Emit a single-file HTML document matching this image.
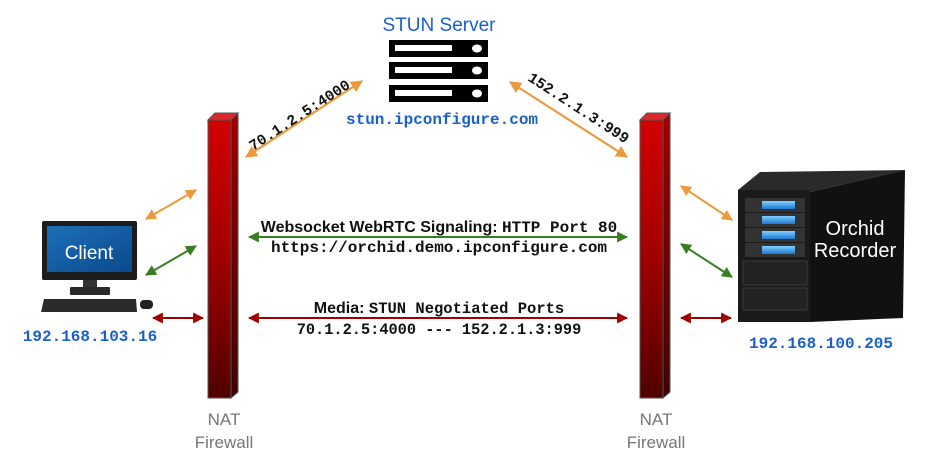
<!DOCTYPE html>
<html><head><meta charset="utf-8"><style>
html,body{margin:0;padding:0;background:#fff;}
svg{display:block;}
.mono{font-family:"Liberation Mono",monospace;font-weight:bold;}
.sans{font-family:"Liberation Sans",sans-serif;}
</style></head><body>
<svg width="934" height="464" viewBox="0 0 934 464" xmlns="http://www.w3.org/2000/svg">
<defs>
<linearGradient id="fw" x1="0" y1="0" x2="0" y2="1">
<stop offset="0" stop-color="#d40000"/><stop offset="0.5" stop-color="#a00000"/><stop offset="1" stop-color="#500000"/></linearGradient>
<linearGradient id="fws" x1="0" y1="0" x2="0" y2="1">
<stop offset="0" stop-color="#a00000"/><stop offset="1" stop-color="#3a0000"/></linearGradient>
<linearGradient id="scr" x1="0" y1="0" x2="1" y2="1">
<stop offset="0" stop-color="#1d6fb8"/><stop offset="1" stop-color="#0a4a8c"/></linearGradient>
<linearGradient id="bay" x1="0" y1="0" x2="0" y2="1">
<stop offset="0" stop-color="#7fd0ff"/><stop offset="1" stop-color="#1e78d0"/></linearGradient>
<marker id="ao" viewBox="0 0 10 10" refX="9" refY="5" markerWidth="5.5" markerHeight="5.5" orient="auto-start-reverse"><path d="M0,0L10,5L0,10z" fill="#ec9a3c"/></marker>
<marker id="ag" viewBox="0 0 10 10" refX="9" refY="5" markerWidth="5.5" markerHeight="5.5" orient="auto-start-reverse"><path d="M0,0L10,5L0,10z" fill="#3a7d22"/></marker>
<marker id="ar" viewBox="0 0 10 10" refX="9" refY="5" markerWidth="5.5" markerHeight="5.5" orient="auto-start-reverse"><path d="M0,0L10,5L0,10z" fill="#a00000"/></marker>
</defs>

<!-- STUN server -->
<text x="439" y="31" text-anchor="middle" class="sans" font-size="19" fill="#1a5fd0">STUN Server</text>
<g>
<rect x="389" y="40" width="99" height="17" fill="#000"/><rect x="395" y="45" width="57" height="6" fill="#fff"/><ellipse cx="477" cy="48.5" rx="5" ry="4" fill="#fff"/>
<rect x="389" y="62" width="99" height="17" fill="#000"/><rect x="395" y="67" width="57" height="6" fill="#fff"/><ellipse cx="477" cy="70.5" rx="5" ry="4" fill="#fff"/>
<rect x="389" y="85" width="99" height="17" fill="#000"/><rect x="395" y="90" width="57" height="6" fill="#fff"/><ellipse cx="477" cy="93.5" rx="5" ry="4" fill="#fff"/>
</g>
<text x="442" y="124" text-anchor="middle" class="mono" font-size="16" fill="#1a5fd0">stun.ipconfigure.com</text>

<!-- diagonal orange -->
<line x1="246" y1="157" x2="362" y2="81" stroke="#ec9a3c" stroke-width="2.2" marker-start="url(#ao)" marker-end="url(#ao)"/>
<line x1="510" y1="82" x2="627" y2="157" stroke="#ec9a3c" stroke-width="2.2" marker-start="url(#ao)" marker-end="url(#ao)"/>
<text class="mono" font-size="15" fill="#111" transform="translate(253,151) rotate(-33)">70.1.2.5:4000</text>
<text class="mono" font-size="15" fill="#111" transform="translate(527,80) rotate(33)">152.2.1.3:999</text>

<!-- firewalls -->
<g stroke="#555" stroke-width="1">
<polygon points="208,120 215,113 238,113 231,120" fill="#d8282e"/>
<polygon points="231,120 238,113 238,392 231,398" fill="url(#fws)"/>
<rect x="208" y="120" width="23" height="278" fill="url(#fw)"/>
<polygon points="640,120 647,113 670,113 663,120" fill="#d8282e"/>
<polygon points="663,120 670,113 670,392 663,398" fill="url(#fws)"/>
<rect x="640" y="120" width="23" height="278" fill="url(#fw)"/>
</g>
<text x="224" y="425" text-anchor="middle" class="sans" font-size="17" fill="#777">NAT</text>
<text x="224" y="448" text-anchor="middle" class="sans" font-size="17" fill="#777">Firewall</text>
<text x="656" y="425" text-anchor="middle" class="sans" font-size="17" fill="#777">NAT</text>
<text x="656" y="448" text-anchor="middle" class="sans" font-size="17" fill="#777">Firewall</text>

<!-- side arrows left -->
<line x1="146" y1="219" x2="196" y2="190" stroke="#ec9a3c" stroke-width="2" marker-start="url(#ao)" marker-end="url(#ao)"/>
<line x1="146" y1="275" x2="196" y2="246" stroke="#3a7d22" stroke-width="2" marker-start="url(#ag)" marker-end="url(#ag)"/>
<line x1="153" y1="318" x2="203" y2="318" stroke="#a00000" stroke-width="2" marker-start="url(#ar)" marker-end="url(#ar)"/>
<!-- side arrows right -->
<line x1="681" y1="186" x2="732" y2="220" stroke="#ec9a3c" stroke-width="2" marker-start="url(#ao)" marker-end="url(#ao)"/>
<line x1="681" y1="244" x2="732" y2="277" stroke="#3a7d22" stroke-width="2" marker-start="url(#ag)" marker-end="url(#ag)"/>
<line x1="681" y1="318" x2="731" y2="318" stroke="#a00000" stroke-width="2" marker-start="url(#ar)" marker-end="url(#ar)"/>

<!-- middle arrows -->
<line x1="249" y1="237" x2="627" y2="237" stroke="#3a7d22" stroke-width="2" marker-start="url(#ag)" marker-end="url(#ag)"/>
<line x1="249" y1="318" x2="627" y2="318" stroke="#a00000" stroke-width="2" marker-start="url(#ar)" marker-end="url(#ar)"/>
<text x="439" y="232" text-anchor="middle" fill="#111"><tspan class="sans" font-weight="bold" font-size="16">Websocket WebRTC Signaling: </tspan><tspan class="mono" font-size="16">HTTP Port 80</tspan></text>
<text x="439" y="252" text-anchor="middle" class="mono" font-size="16" fill="#111">https://orchid.demo.ipconfigure.com</text>
<text x="439" y="313" text-anchor="middle" fill="#111"><tspan class="sans" font-weight="bold" font-size="16">Media: </tspan><tspan class="mono" font-size="15.5">STUN Negotiated Ports</tspan></text>
<text x="439" y="334" text-anchor="middle" class="mono" font-size="15.3" fill="#111">70.1.2.5:4000 --- 152.2.1.3:999</text>

<!-- client computer -->
<rect x="42" y="221" width="95" height="59" rx="2" fill="#1c1c1c"/>
<rect x="47" y="226" width="85" height="46" fill="url(#scr)"/>
<text x="89" y="259" text-anchor="middle" class="sans" font-size="19" fill="#fff">Client</text>
<rect x="83" y="280" width="14" height="8" fill="#333"/>
<rect x="70" y="287" width="40" height="8" rx="1" fill="#2a2a2a"/>
<polygon points="44,299 136,299 137,312 41,312" fill="#2b2b2b"/>
<rect x="140" y="300" width="13" height="9" rx="4" fill="#222"/>
<text x="90" y="341" text-anchor="middle" class="mono" font-size="16" fill="#1a5fd0">192.168.103.16</text>

<!-- recorder tower -->
<polygon points="738,190 760,172 905,170 810,192" fill="#2a2a2a"/>
<polygon points="810,192 905,170 903,318 810,322" fill="#111"/>
<rect x="738" y="190" width="72" height="132" fill="#1a1a1a"/>
<g>
<rect x="745" y="198" width="60" height="14" fill="#333"/><rect x="762" y="201" width="33" height="8" fill="url(#bay)"/>
<rect x="745" y="213" width="60" height="14" fill="#333"/><rect x="762" y="216" width="33" height="8" fill="url(#bay)"/>
<rect x="745" y="228" width="60" height="14" fill="#333"/><rect x="762" y="231" width="33" height="8" fill="url(#bay)"/>
<rect x="745" y="243" width="60" height="14" fill="#333"/><rect x="762" y="246" width="33" height="8" fill="url(#bay)"/>
<rect x="743" y="261" width="64" height="24" fill="#222" stroke="#3a3a3a"/>
<rect x="743" y="288" width="64" height="22" fill="#222" stroke="#3a3a3a"/>
</g>
<text x="855" y="235" text-anchor="middle" class="sans" font-size="20" fill="#fff">Orchid</text>
<text x="855" y="257" text-anchor="middle" class="sans" font-size="20" fill="#fff">Recorder</text>
<text x="821" y="348" text-anchor="middle" class="mono" font-size="16" fill="#1a5fd0">192.168.100.205</text>
</svg>
</body></html>
